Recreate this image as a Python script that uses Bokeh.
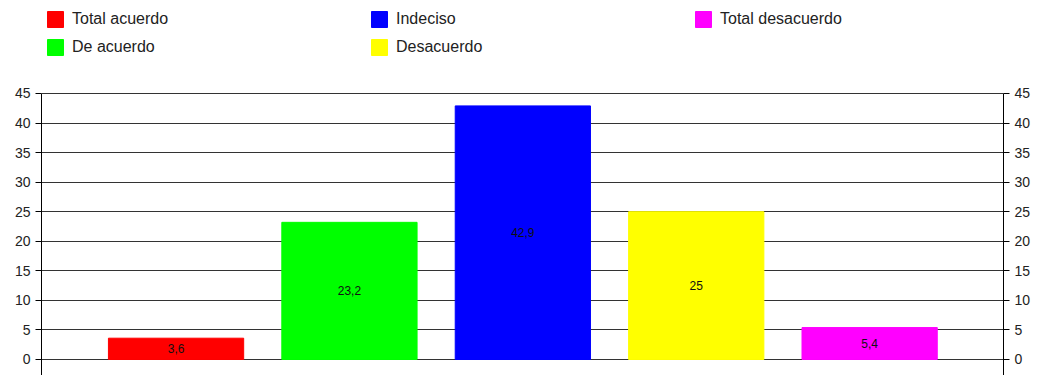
from bokeh.plotting import figure
from bokeh.models import (ColumnDataSource, Range1d, LinearAxis, FixedTicker,
                          Legend, LegendItem)
from bokeh.embed import file_html
from bokeh.resources import INLINE

categories = ["Total acuerdo", "De acuerdo", "Indeciso", "Desacuerdo", "Total desacuerdo"]
values = [3.6, 23.2, 42.9, 25.0, 5.4]
labels = ["3,6", "23,2", "42,9", "25", "5,4"]
colors = ["#ff0000", "#00ff00", "#0000ff", "#ffff00", "#ff00ff"]
y_ticks = [0, 5, 10, 15, 20, 25, 30, 35, 40, 45]

positions = list(range(1, len(categories) + 1))
src = ColumnDataSource(dict(
    x=positions, top=values, mid=[v / 2 for v in values],
    label=labels, color=colors, name=categories))

FONT = "Liberation Sans"
Y_MIN, Y_MAX = -2.71, 60.73

p = figure(width=1037, height=375, output_backend="svg", toolbar_location=None,
           x_range=Range1d(0.224, 5.772), y_range=Range1d(Y_MIN, Y_MAX),
           x_axis_location=None, min_border_left=41, min_border_right=34,
           min_border_top=0, min_border_bottom=0)
p.outline_line_color = None
p.background_fill_color = "white"
p.border_fill_color = "white"

p.xgrid.visible = False
p.ygrid.ticker = FixedTicker(ticks=y_ticks)
p.ygrid.grid_line_color = "#333333"
p.ygrid.grid_line_width = 1

def style_axis(ax):
    ax.ticker = FixedTicker(ticks=y_ticks)
    ax.bounds = (Y_MIN, y_ticks[-1])
    ax.axis_line_color = "black"
    ax.major_tick_line_color = "black"
    ax.major_tick_out = 6
    ax.major_tick_in = 0
    ax.minor_tick_line_color = None
    ax.major_label_standoff = 5
    ax.major_label_text_font = FONT
    ax.major_label_text_font_size = "14px"
    ax.major_label_text_color = "#222222"

style_axis(p.yaxis[0])
right = LinearAxis()
style_axis(right)
p.add_layout(right, "right")

renderers = []
for i in range(len(categories)):
    r = p.vbar(x=[positions[i]], top=[values[i]], bottom=0, width=0.78,
               fill_color=colors[i], line_color=colors[i])
    renderers.append(r)

p.text(x="x", y="mid", text="label", source=src, text_align="center",
       text_baseline="middle", text_font_size="12px", text_color="#111111",
       text_font={"value": FONT})

legend = Legend(items=[LegendItem(label=categories[i], renderers=[renderers[i]])
                       for i in range(len(categories))],
                location=(4, 318),
                orientation="vertical", nrows=2,
                glyph_width=20, glyph_height=20, label_standoff=7,
                label_width=289, spacing=8, padding=0, margin=0,
                label_text_font=FONT, label_text_font_size="16px",
                label_text_color="#222222",
                background_fill_alpha=0, border_line_color=None)
p.add_layout(legend, "center")

open("out.html", "w").write(file_html(p, INLINE))
